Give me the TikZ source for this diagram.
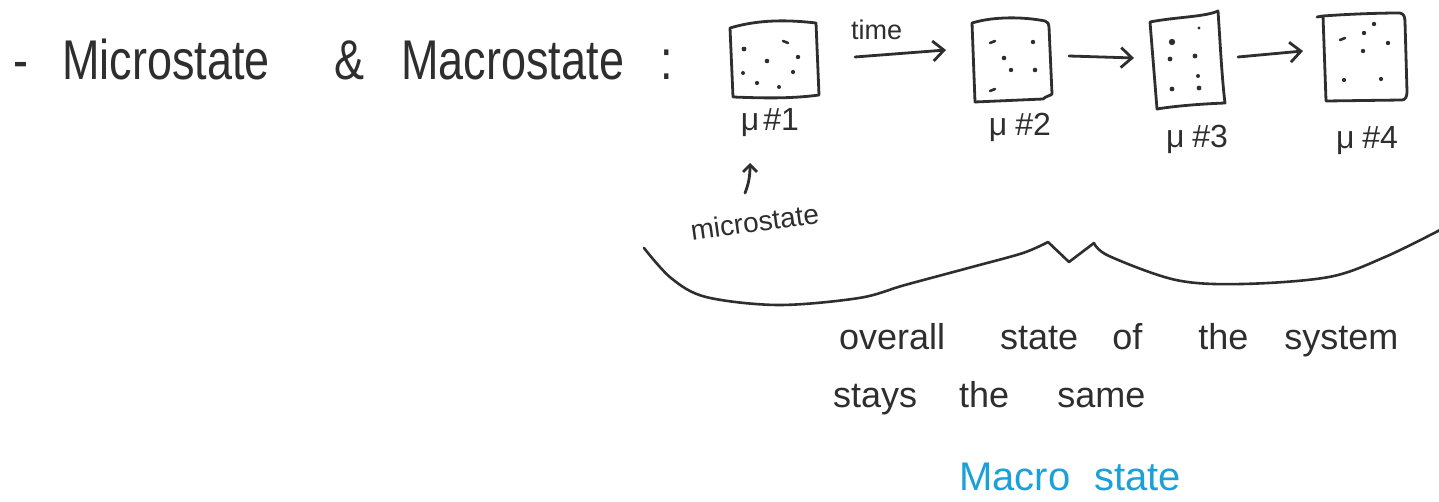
\documentclass[tikz,border=0pt]{standalone}
\usepackage{fontspec}
\setmainfont{Liberation Sans}
\usetikzlibrary{arrows.meta}
\definecolor{ink}{HTML}{2E2E2E}
\definecolor{blueink}{HTML}{1CA0DA}
\tikzset{
  pen/.style={draw=ink, line width=2.8pt, line cap=round, line join=round},
  arr/.style={pen, -{Straight Barb[length=11pt,width=20pt]}},
  dot/.style={fill=ink},
  txt/.style={inner sep=0pt, anchor=base, text=ink},
  lab/.style={txt, font=\fontsize{32}{36}\selectfont},
}
\begin{document}
\begin{tikzpicture}[x=1pt,y=-1pt]
\useasboundingbox (0,0) rectangle (1439,502);
% title
\node[txt, anchor=base west] (title) at (13,80)
  {\scalebox{0.9}[1.12]{\fontsize{50}{60}\selectfont -\hspace{37.8pt}Microstate\hspace{72pt}\&\hspace{41pt}Macrostate\hspace{40pt}:}};
% box 1
\draw[pen] (730,28) .. controls (760,19) and (790,20) .. (816,23) -- (819,95)
  .. controls (790,99) and (760,98) .. (733,97) -- cycle;
\fill[dot] (744,49) circle (2.4) (767,61) circle (2.3) (798,57) circle (2.2)
  (743,73) circle (2) (793,72) circle (2.1) (757,83) circle (2.1) (779,87) circle (2);
\draw[pen, line width=2.6pt] (783,41) -- (788,43);
% box 2
\draw[pen] (972,23) .. controls (995,16) and (1025,17) .. (1045,21)
  .. controls (1048,22) and (1049,24) .. (1049,27) -- (1052,94)
  .. controls (1050,96) and (1046,96) .. (1043,99) -- (975,102) -- cycle;
\fill[dot] (1033,42) circle (2.2) (1004,58) circle (2.3) (1011,70) circle (2.2)
  (1035,70) circle (2.3);
\draw[pen, line width=2.6pt] (990,43) -- (995,41) (990,91) -- (995,89);
% box 3
\draw[pen] (1150,22) .. controls (1175,17) and (1205,17) .. (1218,11)
  .. controls (1220,40) and (1222,80) .. (1225,103)
  .. controls (1200,104) and (1175,106) .. (1157,109) -- (1150,22);
\fill[dot] (1172,42) circle (3.2) (1199,28) circle (1.6) (1170,59) circle (2.4)
  (1195,56) circle (2.4) (1198,76) circle (2) (1172,89) circle (2.4) (1199,88) circle (2.4);
% box 4
\draw[pen] (1317,17) -- (1323,16) .. controls (1350,14) and (1380,13) .. (1400,13)
  .. controls (1404,14) and (1405,17) .. (1405,22) -- (1407,92)
  .. controls (1407,97) and (1405,100) .. (1402,100) -- (1326,101) -- (1323,16);
\fill[dot] (1364,33) circle (2.2) (1374,24) circle (2.2) (1388,43) circle (2.2)
  (1363,51) circle (2.2) (1344,80) circle (2.1) (1381,79) circle (2.1);
\draw[pen, line width=2.6pt] (1340,40) -- (1345,38);
% labels
\node[lab] (m1) at (770,131) {μ\hspace{4pt}\#1};
\node[lab] (m2) at (1020,136) {μ\hspace{8pt}\#2};
\node[lab] (m3) at (1197,148) {μ\hspace{8pt}\#3};
\node[lab] (m4) at (1367,149) {μ\hspace{8pt}\#4};
% arrows between microstates
\coordinate (a1s) at (855,57); \coordinate (a1e) at (946,50);
\coordinate (a2s) at (1069,56); \coordinate (a2e) at (1134,58);
\coordinate (a3s) at (1238,57); \coordinate (a3e) at (1303,51);
\draw[arr] (a1s) -- (a1e);
\draw[arr] (a2s) -- (a2e);
\draw[arr] (a3s) -- (a3e);
\node[txt, anchor=base west, font=\fontsize{27}{30}\selectfont] (time) at (851,40) {time};
% microstate pointer
\node[txt, rotate=8, font=\fontsize{28}{32}\selectfont\addfontfeatures{Kerning=Off}] (micro) at (756,232) {microstate};
\coordinate (up0) at (745,193); \coordinate (up1) at (750,163);
\draw[pen, -{Straight Barb[length=7pt,width=14pt]}] (up0) .. controls (749,183) and (750,175) .. (up1);
% brace
\draw[pen, line width=2.6pt] plot[smooth, tension=0.55] coordinates {(644,248) (671,278) (706,297) (778,305) (859,298) (905,285) (972,267) (1023,253) (1048,242)}
  -- (1069,262) -- (1094,243)
  plot[smooth, tension=0.55] coordinates {(1094,243) (1109,256) (1176,280) (1242,284) (1329,277) (1385,257) (1440,230)};
% explanation
\node[txt, anchor=base west, font=\fontsize{36}{40}\selectfont] (l1) at (839,349)
  {overall\hspace{55pt}state\hspace{34pt}of\hspace{56pt}the\hspace{36pt}system};
\node[txt, anchor=base west, font=\fontsize{36}{40}\selectfont] (l2) at (833,407)
  {stays\hspace{42pt}the\hspace{48pt}same};
\node[txt, anchor=base west, text=blueink, font=\fontsize{40}{44}\selectfont] (macro) at (959,490)
  {Macro\hspace{24pt}state};
\end{tikzpicture}
\end{document}
